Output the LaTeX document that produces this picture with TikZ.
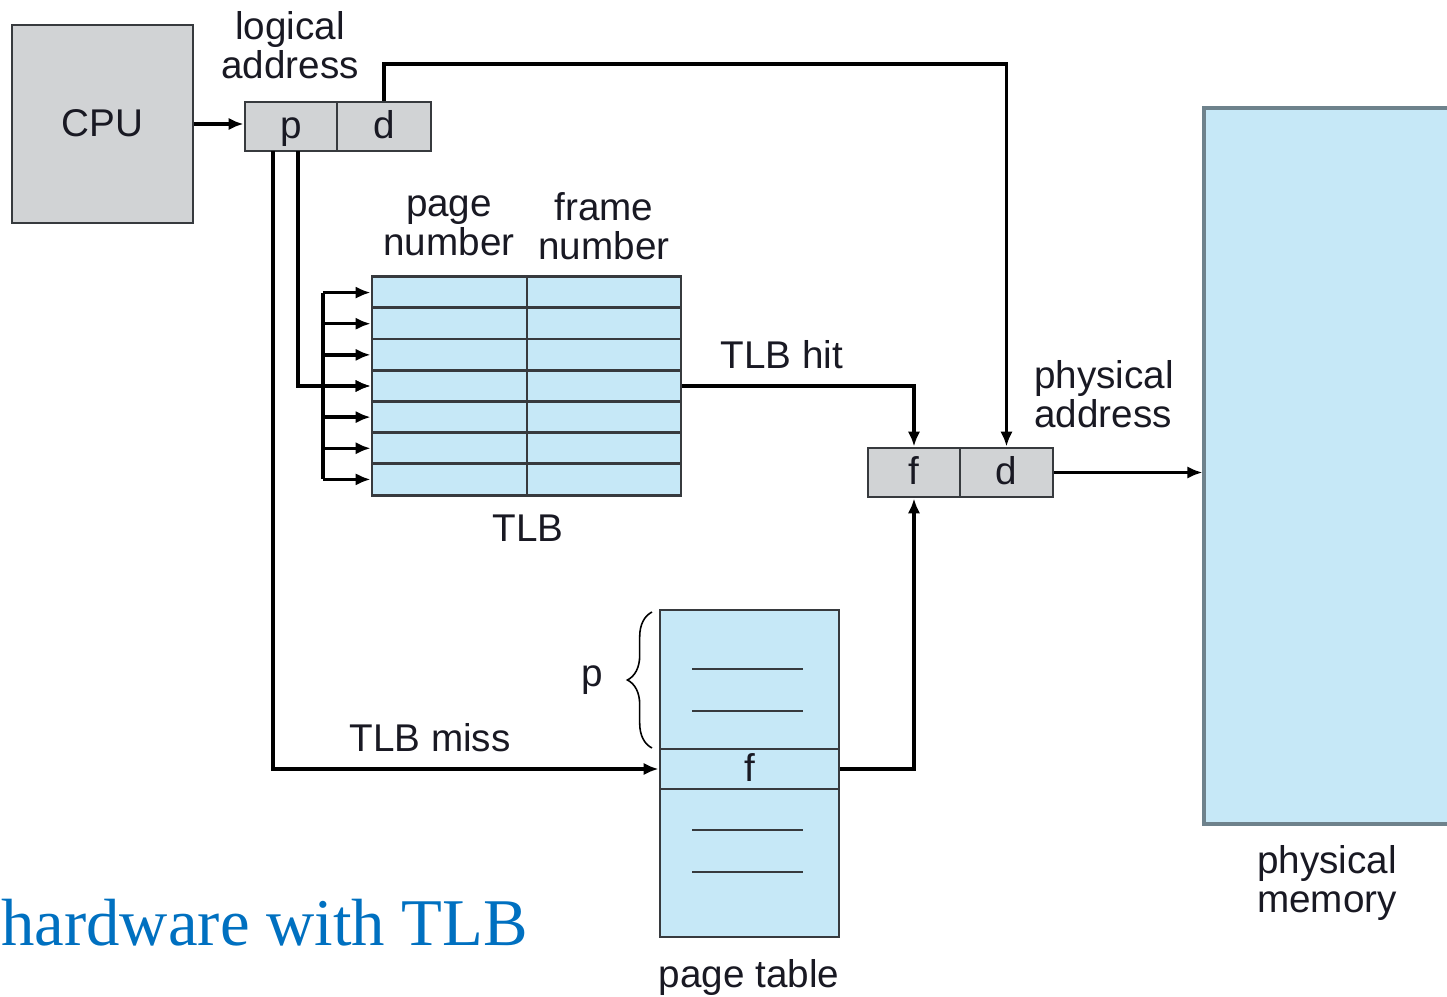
\documentclass[tikz,border=0pt]{standalone}
\usepackage{fontspec}
\setmainfont{Liberation Sans}
\newfontfamily\titlefont{Liberation Serif}
\usetikzlibrary{arrows.meta,decorations.pathreplacing,calc}
\newdimen\px \px=0.02cm
\definecolor{boxgray}{RGB}{209,211,213}
\definecolor{lblue}{RGB}{198,232,247}
\definecolor{edge}{RGB}{55,58,62}
\definecolor{memedge}{RGB}{110,130,140}
\definecolor{titleblue}{RGB}{0,112,192}
\definecolor{txt}{RGB}{25,25,35}
\tikzset{
  lbl/.style={font=\fontsize{22}{22}\selectfont, text=txt, inner sep=0pt, align=center},
  graybox/.style={draw=edge, line width=1.6pt, fill=boxgray, inner sep=0pt, font=\fontsize{22}{22}\selectfont, text=txt, text height=16pt, text depth=2pt},
  bluebox/.style={draw=edge, line width=1.6pt, fill=lblue, inner sep=0pt, font=\fontsize{22}{22}\selectfont, text=txt, text height=16pt, text depth=2pt},
  conn/.style={line width=1.9pt, black},
  arr/.style={conn, -{Latex[length=8.5pt,width=7pt]}},
}
\begin{document}
\begin{tikzpicture}[x=0.02cm,y=-0.02cm]
\useasboundingbox (0,0) rectangle (1447,997);
% physical memory (clipped at right edge)
\begin{scope}
\clip (0,0) rectangle (1447,997);
\node[draw=memedge, line width=1.8pt, fill=lblue, minimum width=256\px, minimum height=716\px, inner sep=0pt] (mem) at (1332,466) {};
\end{scope}
% CPU
\node[graybox, minimum width=181\px, minimum height=198\px] (cpu) at (102.5,124) {CPU};
% logical address p|d
\node[graybox, minimum width=92\px, minimum height=49\px] (pbox) at (291,126.5) {p};
\node[graybox, minimum width=94\px, minimum height=49\px] (dbox) at (384,126.5) {d};
\node[lbl] (lalbl) at (290,45) {logical\\address};
% TLB
\foreach \i in {1,...,7} {
  \node[bluebox, minimum width=155\px, minimum height=31.14\px] (tlbL\i) at (449.5,{277+(\i-0.5)*31.14}) {};
  \node[bluebox, minimum width=154\px, minimum height=31.14\px] (tlbR\i) at (604,{277+(\i-0.5)*31.14}) {};
}
\node[lbl] (pnlbl) at (449,226) {page\\number};
\node[lbl] (fnlbl) at (604,226) {frame\\number};
\node[lbl] (tlblbl) at (528,528) {TLB};
% physical address f|d
\node[graybox, minimum width=92\px, minimum height=49\px] (fbox) at (914,472.5) {f};
\node[graybox, minimum width=93\px, minimum height=49\px] (dbox2) at (1006.5,472.5) {d};
\node[lbl, align=left, anchor=west] (palbl) at (1034,394) {physical\\address};
\node[lbl] (pmlbl) at (1327,883) {physical\\memory};
% page table
\node[bluebox, minimum width=179\px, minimum height=139\px] (pttop) at (749.5,679.5) {};
\node[bluebox, minimum width=179\px, minimum height=40\px] (ptf) at (749.5,769) {f};
\node[bluebox, minimum width=179\px, minimum height=148\px] (ptbot) at (749.5,863) {};
\foreach \yy in {669,711} \draw[edge, line width=1.6pt] (692,\yy) -- (803,\yy);
\foreach \yy in {830,872} \draw[edge, line width=1.6pt] (692,\yy) -- (803,\yy);
\node[lbl] (ptlbl) at (749,977) {page table};
\draw[line width=0.9pt, black, decorate, decoration={brace, amplitude=14pt}] (652,748) -- (652,612);
\node[lbl] (plbl) at (592,680) {p};
\node[lbl] (misslbl) at (430,738) {TLB miss};
\node[lbl] (hitlbl) at (782,355) {TLB hit};
% title
\node[font=\titlefont\fontsize{38}{38}\selectfont, text=titleblue, inner sep=0pt, anchor=base west] (title) at (1,945) {hardware with TLB};
% connectors
\draw[arr] (cpu.east |- 0,124) -- (pbox.west |- 0,124);
\coordinate (dtop) at (0,64);
\draw[arr] (dbox.north) |- (dbox2.north |- dtop) -- (dbox2.north);
\coordinate (p1) at (273,151);
\coordinate (p2) at (298,151);
\draw[arr] (p2) |- (tlbL4.west);
\coordinate (br) at (323,0);
\draw[conn] (br |- tlbL1.west) -- (br |- tlbL7.west);
\foreach \i in {1,...,7} \draw[arr] (br |- tlbL\i.west) -- (tlbL\i.west);
\draw[arr] (p1) |- (ptf.west);
\draw[arr] (tlbR4.east) -| (fbox.north);
\draw[arr] (ptf.east) -| (fbox.south);
\draw[arr] (dbox2.east) -- (mem.west |- dbox2.east);
\end{tikzpicture}
\end{document}
